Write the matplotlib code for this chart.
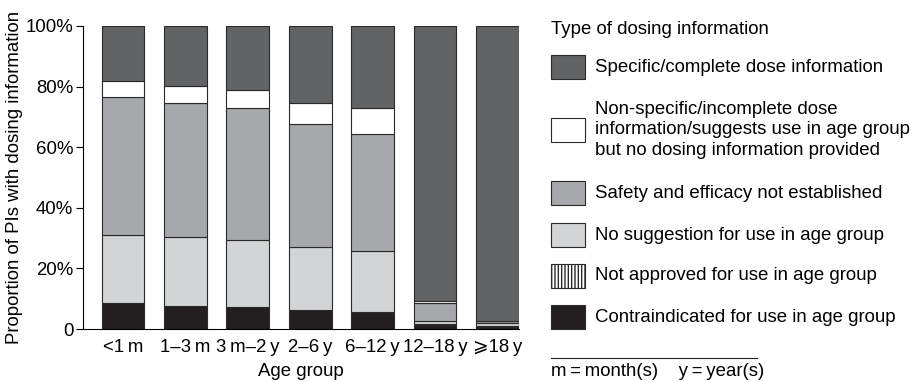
import matplotlib.pyplot as plt
from matplotlib.patches import Rectangle
import numpy as np

plt.rcParams['font.family'] = ['Liberation Sans', 'DejaVu Sans']

# Age groups and share of product information (%) per dosing category
age_groups = ['<1\u2009m', '1\u20133\u2009m', '3\u2009m\u20132\u2009y', '2\u20136\u2009y',
              '6\u201312\u2009y', '12\u201318\u2009y', '\u2a7e18\u2009y']
contraindicated = [8.5, 7.7, 7.2, 6.3, 5.5, 1.2, 0.8]
not_approved = [0.0, 0.0, 0.0, 0.0, 0.0, 0.3, 0.3]
no_suggestion = [22.5, 22.8, 22.1, 20.9, 20.3, 1.0, 1.0]
safety_not_est = [45.5, 44.2, 43.7, 40.5, 38.4, 6.2, 0.6]
non_specific = [5.5, 5.6, 5.9, 6.8, 8.6, 0.7, 0.0]
specific = [18.0, 19.7, 21.1, 25.5, 27.2, 90.6, 97.3]

categories = [
    ('Contraindicated for use in age group', contraindicated, '#231f20', None),
    ('Not approved for use in age group', not_approved, '#ffffff', '|||||'),
    ('No suggestion for use in age group', no_suggestion, '#d3d4d6', None),
    ('Safety and efficacy not established', safety_not_est, '#a7a8ab', None),
    ('Non-specific/incomplete dose\ninformation/suggests use in age group\nbut no dosing information provided',
     non_specific, '#ffffff', None),
    ('Specific/complete dose information', specific, '#626365', None),
]

FS = 13.4

fig = plt.figure(figsize=(9.12, 3.82), dpi=100)
ax = fig.add_axes([83 / 912, 53 / 382, 436 / 912, 303 / 382])

x = np.arange(len(age_groups))
bottom = np.zeros(len(age_groups))
for label, vals, color, hatch in categories:
    ax.bar(x, vals, width=0.685, bottom=bottom, color=color, edgecolor='#2a2a2a',
           linewidth=0.8, hatch=hatch)
    bottom += np.array(vals)

ax.set_xlim(-0.642, 6.345)
ax.set_ylim(0, 100)
ax.set_yticks([0, 20, 40, 60, 80, 100])
ax.set_yticklabels(['0', '20%', '40%', '60%', '80%', '100%'], fontsize=FS)
ax.set_xticks(x)
ax.set_xticklabels(age_groups, fontsize=FS)
ax.tick_params(axis='x', length=0, pad=7)
ax.tick_params(axis='y', length=5, width=0.8, pad=2)
for s in ['top', 'right']:
    ax.spines[s].set_visible(False)
for s in ['left', 'bottom']:
    ax.spines[s].set_linewidth(0.8)
ax.set_xlabel('Age group', fontsize=FS, labelpad=5)
ax.set_ylabel('Proportion of PIs with dosing information', fontsize=FS, labelpad=2)

# Legend panel, drawn in pixel coordinates
lg = fig.add_axes([0, 0, 1, 1])
lg.set_xlim(0, 912)
lg.set_ylim(382, 0)
lg.axis('off')
lg.text(551, 30, 'Type of dosing information', fontsize=FS, va='center', ha='left')
legend_y = [67, 130, 193, 235, 276, 317]
for (label, vals, color, hatch), yc in zip(reversed(categories), legend_y):
    lg.add_patch(Rectangle((551, yc - 12), 34, 24, facecolor=color, edgecolor='#2a2a2a',
                           linewidth=0.8, hatch=hatch))
    lg.text(595, yc, label, fontsize=FS, va='center', ha='left', linespacing=1.27)
lg.plot([551, 757], [358, 358], color='#231f20', linewidth=0.8)
lg.text(551, 371, 'm\u2009=\u2009month(s)    y\u2009=\u2009year(s)', fontsize=FS,
        va='center', ha='left')

fig.savefig('out.png', dpi=100)
